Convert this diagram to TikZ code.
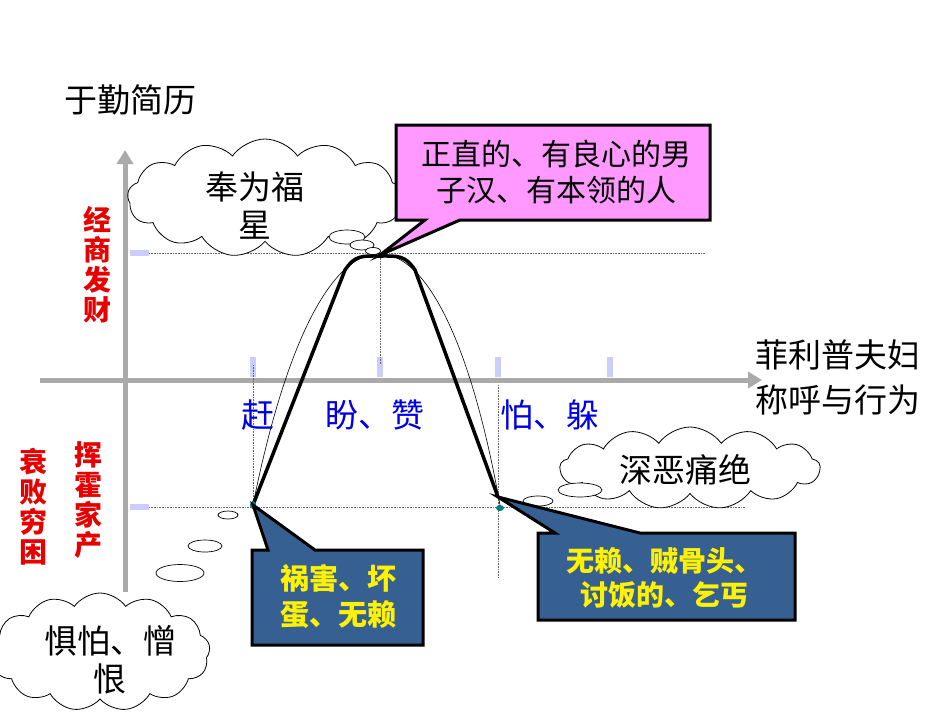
\documentclass[tikz,border=0pt]{standalone}
\usepackage{fontspec}
\newfontfamily\cjk{Noto Sans CJK SC}
\usetikzlibrary{shapes.symbols,shapes.geometric,arrows.meta}
\definecolor{axgray}{RGB}{170,170,170}
\definecolor{tickc}{RGB}{204,204,255}
\definecolor{pinkc}{RGB}{255,153,255}
\definecolor{bluec}{RGB}{55,96,146}
\definecolor{bluet}{RGB}{0,0,230}
\definecolor{redt}{RGB}{230,0,0}
\tikzset{
  txt/.style={font=\cjk\fontsize{33}{38}\selectfont, align=center, inner sep=0pt},
  redv/.style={font=\cjk\bfseries\fontsize{28}{30}\selectfont, text=redt, align=center, inner sep=0pt, text width=30pt},
  ax/.style={axgray, line width=5pt, -{Triangle[length=14pt,width=16pt]}},
  tk/.style={tickc, line width=6pt},
  dl/.style={densely dotted, line width=0.6pt, gray!80!black},
  cl/.style={cloud, cloud puffs=13, cloud puff arc=110, aspect=2.2, draw, fill=white, line width=0.8pt},
  bub/.style={ellipse, draw, fill=white, line width=0.7pt, inner sep=0pt},
  callout/.style={draw, line width=3pt, line join=miter}
}
\begin{document}
\begin{tikzpicture}[x=1pt,y=-1pt]
\useasboundingbox (0,0) rectangle (950,713);
% axes
\draw[ax] (125,592) -- (125,150);
\draw[ax] (40,380) -- (762,380);
% ticks
\foreach \y in {253,507} \draw[tk] (130,\y) -- (149,\y);
\foreach \x in {253,380,498,610} \draw[tk] (\x,357) -- (\x,377);
% dotted guides
\draw[dl] (149,253) -- (705,253);
\draw[dl] (149,507) -- (745,507);
\draw[dl] (380,253) -- (380,365);
\draw[dl] (253,365) -- (253,507);
\draw[dl] (498,385) -- (498,578);
% title and labels
\node[txt] (title) at (130,100) {于勤简历};
\node[txt] (xl1) at (838,355) {菲利普夫妇};
\node[txt] (xl2) at (838,400) {称呼与行为};
\node[redv] (ry1) at (97,265) {经\\商\\发\\财};
\node[redv] (ry2) at (88,500) {挥\\霍\\家\\产};
\node[redv] (ry3) at (33,507) {衰\\败\\穷\\困};
\node[txt, text=bluet] (b1) at (258,415) {赶};
\node[txt, text=bluet] (b2) at (375,415) {盼、赞};
\node[txt, text=bluet] (b3) at (550,415) {怕、躲};
% curves
\coordinate (L) at (253,505);
\coordinate (T) at (380,255);
\coordinate (R) at (498,497);
\draw[line width=0.6pt] (L) .. controls (320,170) and (440,170) .. (500,505);
\draw[line width=3.5pt, line join=round] (L) -- (345,270) .. controls (355,255) and (362,256) .. (380,256) .. controls (398,256) and (405,255) .. (415,270) -- (R);
\fill[teal] (L) ellipse (3 and 4);
\fill[teal] (500,508) ellipse (4 and 3);
% clouds
\node[cl, minimum width=275pt, minimum height=118pt] (c1) at (265,198) {};
\node[txt] (c1t) at (255,205) {奉为福\\星};
\node[bub, minimum width=36pt, minimum height=14pt] (b11) at (347,237) {};
\node[bub, minimum width=24pt, minimum height=10pt] (b12) at (362,245) {};
\node[bub, minimum width=15pt, minimum height=7pt] (b13) at (373,251) {};
\node[cl, minimum width=260pt, minimum height=82pt] (c2) at (690,468) {};
\node[txt] (c2t) at (685,470) {深恶痛绝};
\node[bub, minimum width=44pt, minimum height=14pt] (b21) at (580,490) {};
\node[bub, minimum width=30pt, minimum height=10pt] (b22) at (538,501) {};
\node[cl, minimum width=220pt, minimum height=118pt] (c3) at (100,652) {};
\node[txt] (c3t) at (110,660) {惧怕、憎\\恨};
\node[bub, minimum width=48pt, minimum height=17pt] (b31) at (180,573) {};
\node[bub, minimum width=34pt, minimum height=12pt] (b32) at (205,546) {};
\node[bub, minimum width=20pt, minimum height=8pt] (b33) at (228,515) {};
% callouts
\draw[callout, fill=pinkc] (396,125) -- (710,125) -- (710,220) -- (460,220) -- (T) -- (425,220) -- (396,220) -- cycle;
\node[txt, font=\cjk\fontsize{30}{36}\selectfont] (p1) at (556,172) {正直的、有良心的男\\子汉、有本领的人};
\draw[callout, fill=bluec] (252,550) -- (268,550) -- (L) -- (315,550) -- (423,550) -- (423,645) -- (252,645) -- cycle;
\node[txt, font=\cjk\bfseries\fontsize{29}{36}\selectfont, text=yellow] (p2) at (338,597) {祸害、坏\\蛋、无赖};
\draw[callout, fill=bluec] (538,533) -- (555,533) -- (R) -- (640,533) -- (795,533) -- (795,620) -- (538,620) -- cycle;
\node[txt, font=\cjk\bfseries\fontsize{28}{34}\selectfont, text=yellow] (p3) at (664,578) {无赖、贼骨头、\\讨饭的、乞丐};
\end{tikzpicture}
\end{document}
